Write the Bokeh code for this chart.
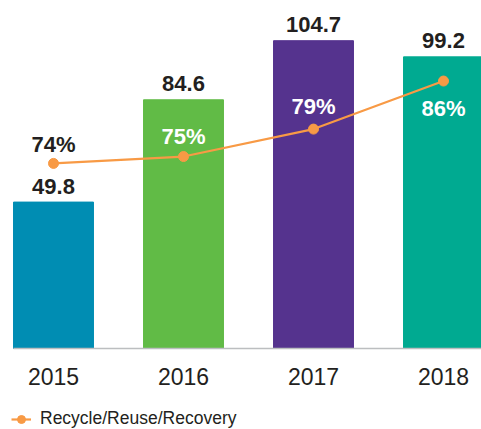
from bokeh.plotting import figure
from bokeh.models import Range1d, FixedTicker, Legend, LegendItem, ColumnDataSource, LinearAxis
from bokeh.embed import file_html
from bokeh.resources import INLINE
from bokeh.core.properties import value

# ---- data ----
years = ["2015", "2016", "2017", "2018"]
volumes = [49.8, 84.6, 104.7, 99.2]
recovery_pct = [74, 75, 79, 86]
series_name = "Recycle/Reuse/Recovery"

# ---- styles ----
bar_colors = ["#008DB3", "#61BB46", "#55338E", "#00AA91"]
line_color = "#F89A45"
text_dark = "#231F20"
pct_label_colors = [text_dark, "white", "white", "white"]
pct_label_dy = [-19, -20, -23, 27]
FONT = "Liberation Sans"

xs = list(range(len(years)))
bar_w = 0.615
x_start, x_end = -0.4077, 3.2923

src = ColumnDataSource(dict(
    x=xs, year=years, vol=volumes, color=bar_colors,
    vol_lbl=[f"{v:.1f}" for v in volumes],
    pct=recovery_pct, pct_lbl=[f"{v}%" for v in recovery_pct],
    pct_col=pct_label_colors, pct_dy=pct_label_dy,
))

p = figure(frame_width=481, frame_height=429, output_backend="svg", toolbar_location=None,
           x_range=Range1d(x_start, x_end), y_range=Range1d(-27.55, 118.37),
           x_axis_location=None, y_axis_location=None,
           min_border_left=0, min_border_right=0,
           min_border_top=0, min_border_bottom=0, outline_line_color=None)
p.extra_y_ranges = {"pct": Range1d(35.24, 97.73)}
p.xgrid.visible = False
p.ygrid.visible = False

p.vbar(x="x", top="vol", bottom=0, width=bar_w, color="color", source=src)

ln = p.line(x="x", y="pct", y_range_name="pct", line_color=line_color,
            line_width=2.2, source=src)
sc = p.scatter(x="x", y="pct", y_range_name="pct", size=10, fill_color=line_color,
               line_color=line_color, source=src)

p.text(x="x", y="vol", text="vol_lbl", text_align="center", text_baseline="alphabetic",
       y_offset=-16, text_font=value(FONT), text_font_style="bold",
       text_font_size="22px", text_color=text_dark, source=src)
p.text(x="x", y="pct", text="pct_lbl", y_range_name="pct", text_align="center",
       text_baseline="alphabetic", y_offset="pct_dy", text_font=value(FONT),
       text_font_style="bold", text_font_size="22px", text_color="pct_col", source=src)

ax = LinearAxis(fixed_location=0)
ax.ticker = FixedTicker(ticks=xs)
ax.major_label_overrides = {i: y for i, y in zip(xs, years)}
ax.bounds = (xs[0] - bar_w / 2, x_end)
ax.axis_line_color = "#BCBEC0"
ax.axis_line_width = 1.5
ax.major_tick_line_color = None
ax.minor_tick_line_color = None
ax.major_label_standoff = 13
ax.major_label_text_font = FONT
ax.major_label_text_font_size = "23px"
ax.major_label_text_color = text_dark
p.add_layout(ax, "below")

legend = Legend(items=[LegendItem(label=series_name, renderers=[ln, sc])],
                location=(11, 0), orientation="horizontal", padding=3, margin=0,
                border_line_color=None, background_fill_alpha=0,
                label_text_font=FONT, label_text_font_size="17.5px",
                label_text_color=text_dark, glyph_width=20, glyph_height=20,
                label_standoff=9, spacing=0)
p.add_layout(legend)

open("out.html", "w").write(file_html(p, INLINE))
